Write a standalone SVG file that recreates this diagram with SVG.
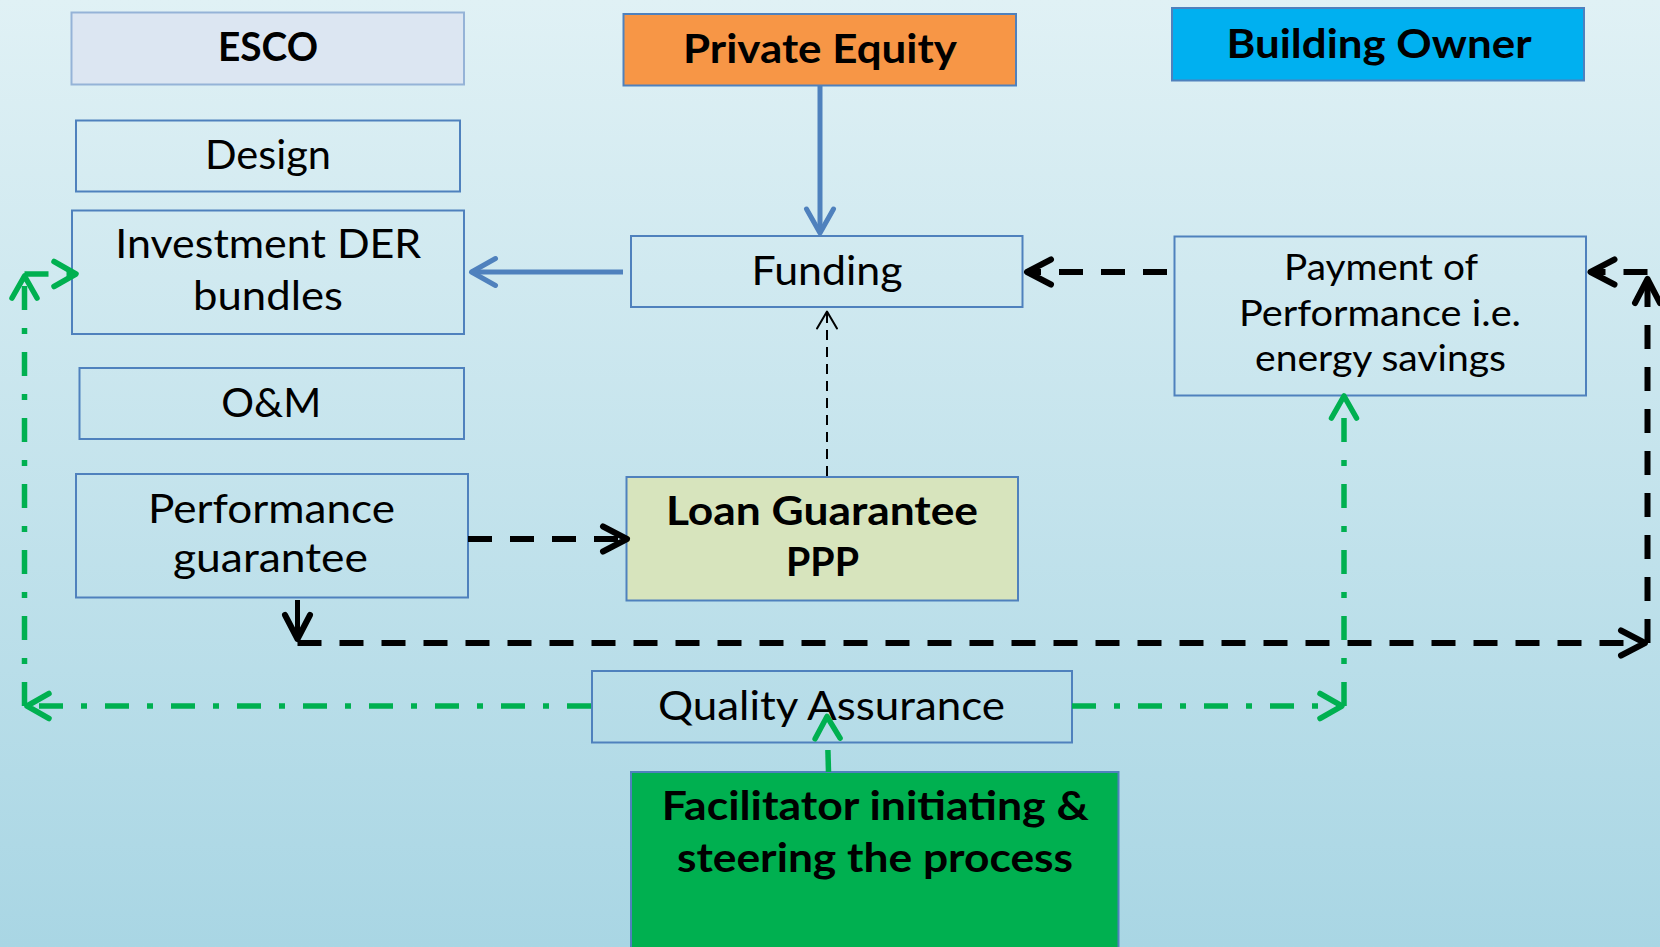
<svg xmlns="http://www.w3.org/2000/svg" width="1660" height="947" viewBox="0 0 1660 947">
<defs>
<linearGradient id="bg" x1="0" y1="0" x2="0" y2="1">
<stop offset="0" stop-color="#e0f1f5"/>
<stop offset="1" stop-color="#a9d6e4"/>
</linearGradient>
<marker id="mB" viewBox="-40 -20 50 40" refX="0" refY="0" markerWidth="50" markerHeight="40" markerUnits="userSpaceOnUse" orient="auto" overflow="visible">
<path d="M-24,-13.5 L0,0 L-24,13.5" fill="none" stroke="#4f81bd" stroke-width="5" stroke-linecap="round" stroke-linejoin="round" stroke-dasharray="none"/>
</marker>
<marker id="mK" viewBox="-40 -20 50 40" refX="0" refY="0" markerWidth="50" markerHeight="40" markerUnits="userSpaceOnUse" orient="auto" overflow="visible">
<path d="M-24,-12.5 L0,0 L-24,12.5" fill="none" stroke="#000" stroke-width="6" stroke-linecap="round" stroke-linejoin="round" stroke-dasharray="none"/>
</marker>
<marker id="mT" viewBox="-40 -20 50 40" refX="0" refY="0" markerWidth="50" markerHeight="40" markerUnits="userSpaceOnUse" orient="auto" overflow="visible">
<path d="M-17,-10 L0,0 L-17,10" fill="none" stroke="#000" stroke-width="2" stroke-linecap="round" stroke-linejoin="round" stroke-dasharray="none"/>
</marker>
<marker id="mG" viewBox="-40 -20 50 40" refX="0" refY="0" markerWidth="50" markerHeight="40" markerUnits="userSpaceOnUse" orient="auto" overflow="visible">
<path d="M-22,-12.5 L0,0 L-22,12.5" fill="none" stroke="#00b050" stroke-width="5.5" stroke-linecap="round" stroke-linejoin="round" stroke-dasharray="none"/>
</marker>
</defs>
<style>
.box{fill:none;stroke:#4f81bd;stroke-width:2}
.t{font-family:Lato,"Open Sans","Liberation Sans",sans-serif;font-size:41px;fill:#000;text-anchor:middle}
.b{font-weight:700}
.s{font-size:37px}
.blue{fill:none;stroke:#4f81bd;stroke-width:5}
.blk{fill:none;stroke:#000;stroke-width:6;stroke-dasharray:24 18}
.solid{fill:none;stroke:#000;stroke-width:5}
.thin{fill:none;stroke:#000;stroke-width:2;stroke-dasharray:10 7}
.grn{fill:none;stroke:#00b050;stroke-width:5.5;stroke-dasharray:24 18 6 18}
.gsolid{fill:none;stroke:#00b050;stroke-width:5.5;stroke-dasharray:22 300}
</style>
<rect x="0" y="0" width="1660" height="947" fill="url(#bg)"/>

<g id="esco">
<rect x="71.5" y="12.5" width="392.5" height="72" fill="#dce6f2" stroke="#95b3d7" stroke-width="2"/>
<text class="t b" x="268" y="61" font-size="42" textLength="100" lengthAdjust="spacingAndGlyphs">ESCO</text>
</g>
<g id="design">
<rect class="box" x="76" y="120.5" width="384" height="71"/>
<text class="t" x="268" y="169" textLength="126" lengthAdjust="spacingAndGlyphs">Design</text>
</g>
<g id="investment">
<rect class="box" x="72" y="210.5" width="392" height="123.5"/>
<text class="t" x="268.3" y="258" textLength="306" lengthAdjust="spacingAndGlyphs">Investment DER</text>
<text class="t" x="268" y="310" textLength="150" lengthAdjust="spacingAndGlyphs">bundles</text>
</g>
<g id="om">
<rect class="box" x="79.5" y="368" width="384.5" height="71"/>
<text class="t" x="271.3" y="417" textLength="100" lengthAdjust="spacingAndGlyphs">O&amp;M</text>
</g>
<g id="perf-guarantee">
<rect class="box" x="76" y="474" width="392" height="123.5"/>
<text class="t" x="271.5" y="523" textLength="247" lengthAdjust="spacingAndGlyphs">Performance</text>
<text class="t" x="270.5" y="572" textLength="195" lengthAdjust="spacingAndGlyphs">guarantee</text>
</g>
<g id="private-equity">
<rect x="623.5" y="14" width="392.5" height="71.5" fill="#f79646" stroke="#4f81bd" stroke-width="2"/>
<text class="t b" x="820" y="62.5" font-size="42" textLength="274" lengthAdjust="spacingAndGlyphs">Private Equity</text>
</g>
<g id="funding">
<rect class="box" x="631" y="236" width="391.5" height="71"/>
<text class="t" x="827" y="285" textLength="151" lengthAdjust="spacingAndGlyphs">Funding</text>
</g>
<g id="building-owner">
<rect x="1172" y="8" width="412" height="72.5" fill="#00b0f0" stroke="#4f81bd" stroke-width="2"/>
<text class="t b" x="1379" y="57.5" font-size="42" textLength="305" lengthAdjust="spacingAndGlyphs">Building Owner</text>
</g>
<g id="payment">
<rect class="box" x="1174.5" y="236.5" width="411.5" height="159"/>
<text class="t s" x="1381" y="280" textLength="194" lengthAdjust="spacingAndGlyphs">Payment of</text>
<text class="t s" x="1380" y="326" textLength="282" lengthAdjust="spacingAndGlyphs">Performance i.e.</text>
<text class="t s" x="1380.5" y="371" textLength="251" lengthAdjust="spacingAndGlyphs">energy savings</text>
</g>
<g id="loan-guarantee">
<rect x="626.5" y="477" width="391.5" height="123.5" fill="#d7e4bd" stroke="#4f81bd" stroke-width="2"/>
<text class="t b" x="822" y="525" textLength="312" lengthAdjust="spacingAndGlyphs">Loan Guarantee</text>
<text class="t b" x="822.5" y="576" textLength="73" lengthAdjust="spacingAndGlyphs">PPP</text>
</g>
<g id="quality-assurance">
<rect class="box" x="592" y="671" width="480" height="71.5"/>
<text class="t" x="831.5" y="720" textLength="347" lengthAdjust="spacingAndGlyphs">Quality Assurance</text>
</g>
<g id="facilitator">
<rect x="631" y="772" width="487.5" height="185" fill="#00b050" stroke="#4f81bd" stroke-width="2"/>
<text class="t b" x="875.3" y="820" textLength="427" lengthAdjust="spacingAndGlyphs">Facilitator initiating &amp;</text>
<text class="t b" x="875" y="871.5" textLength="396" lengthAdjust="spacingAndGlyphs">steering the process</text>
</g>

<g id="connectors">
<path class="blue" d="M820,86 L820,233" marker-end="url(#mB)"/>
<path class="blue" d="M623,272 L471.5,272" marker-end="url(#mB)"/>
<path class="blk" d="M1167,272 L1027,272" marker-end="url(#mK)"/>
<path class="thin" d="M827,476 L827,311.5" marker-end="url(#mT)"/>
<path class="blk" d="M468,539 L627,539" marker-end="url(#mK)"/>
<path class="solid" d="M297.5,600 L297.5,639" marker-end="url(#mK)"/>
<path class="blk" d="M297.5,643 L1645,643" marker-end="url(#mK)"/>
<path class="blk" d="M1647.5,643 L1647.5,279" marker-end="url(#mK)"/>
<path class="blk" d="M1647.5,272 L1590.5,272" marker-end="url(#mK)"/>
<path class="grn" d="M591,706 L27,706" marker-end="url(#mG)"/>
<path class="grn" d="M24.5,706 L24.5,276" marker-end="url(#mG)"/>
<path class="grn" d="M24.5,274 L76,274" marker-end="url(#mG)"/>
<path class="grn" d="M1072,706 L1342,706" marker-end="url(#mG)"/>
<path class="grn" d="M1344,706 L1344,396" marker-end="url(#mG)"/>
<path class="gsolid" d="M828.5,772 L827,716.5" marker-end="url(#mG)"/>
</g>
</svg>
